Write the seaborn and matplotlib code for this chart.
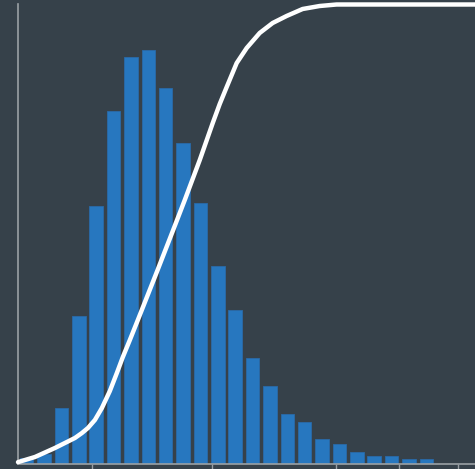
import pandas as pd
import seaborn as sns
import matplotlib.pyplot as plt

# histogram: bin centres and counts
bin_centers = [0.5, 1.5, 2.5, 3.5, 4.5, 5.5, 6.5, 7.5, 8.5, 9.5, 10.5, 11.5,
               12.5, 13.5, 14.5, 15.5, 16.5, 17.5, 18.5, 19.5, 20.5, 21.5, 22.5, 23.5]
counts = [6, 10, 56, 148, 257, 352, 406, 413, 375, 320, 260, 197,
          154, 106, 78, 50, 42, 25, 20, 12, 8, 8, 5, 5]

# cumulative curve (fraction)
cum_x = [0.0, 0.977, 2.126, 2.701, 3.276, 3.678, 4.023, 4.425, 4.828, 5.287,
         5.690, 6.034, 6.437, 6.897, 7.989, 8.908, 9.598, 10.460, 11.207,
         11.609, 12.011, 12.586, 13.161, 13.908, 14.655, 15.460, 16.379,
         17.356, 18.333, 26.3]
cum_y = [0.003, 0.0142, 0.0338, 0.0447, 0.0556, 0.0664, 0.0773, 0.0948, 0.1209,
         0.158, 0.1972, 0.2320, 0.2691, 0.3126, 0.4172, 0.5065, 0.5741, 0.6612,
         0.7418, 0.7832, 0.8203, 0.8725, 0.9052, 0.9379, 0.9597, 0.9750, 0.9902,
         0.9967, 1.0, 1.0]

xticks = [4.25, 11.15, 18.28, 21.9, 25.34]

bg = '#36414a'
sns.set_style('dark', {'axes.facecolor': bg, 'figure.facecolor': bg})

fig = plt.figure(figsize=(4.75, 4.69), dpi=100)
ax = fig.add_axes([18 / 475, 5.5 / 469, 1 - 18 / 475, 459 / 469])
ax.set_facecolor(bg)

hist_df = pd.DataFrame({'x': bin_centers, 'n': counts})
sns.barplot(data=hist_df, x='x', y='n', native_scale=True, width=0.78,
            color='#2777bf', edgecolor='#2a6aa8', linewidth=0.6,
            saturation=1, ax=ax)
ax.set_xlim(0, 26.3)
ax.set_ylim(0, 459)
ax.set_xticks(xticks)
ax.set_xticklabels([])
ax.set_yticks([])
ax.set_xlabel('')
ax.set_ylabel('')
ax.tick_params(axis='x', bottom=True, length=4, width=1, color='#9aa0a5')
for s in ['top', 'right']:
    ax.spines[s].set_visible(False)
for s in ['left', 'bottom']:
    ax.spines[s].set_visible(True)
    ax.spines[s].set_color('#9aa0a5')
    ax.spines[s].set_linewidth(1.2)

# cumulative line on its own 0..1 scale
ax2 = ax.twinx()
sns.lineplot(x=cum_x, y=cum_y, color='white', linewidth=3.2, ax=ax2)
ax2.lines[0].set_solid_joinstyle('round')
ax2.lines[0].set_solid_capstyle('round')
ax2.set_ylim(0, 1)
ax2.set_yticks([])
for s in ax2.spines.values():
    s.set_visible(False)
ax2.lines[0].set_clip_on(False)

fig.savefig('out.png', dpi=100, facecolor=bg)
